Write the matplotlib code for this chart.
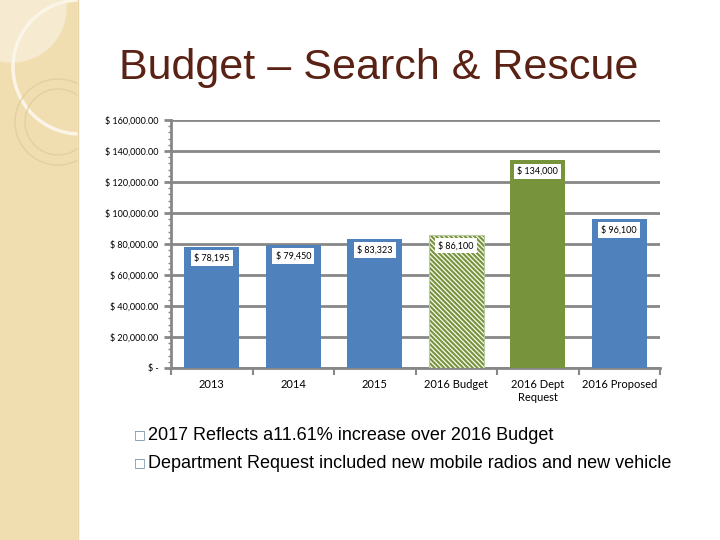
import numpy as np
import matplotlib.pyplot as plt
from matplotlib.patches import Circle, Rectangle

# ---------------- data ----------------
categories = ['2013', '2014', '2015', '2016 Budget', '2016 Dept\nRequest', '2016 Proposed']
values = [78195, 79450, 83323, 86100, 134000, 96100]
labels = ['$ 78,195', '$ 79,450', '$ 83,323', '$ 86,100', '$ 134,000', '$ 96,100']
yticks = [0, 20000, 40000, 60000, 80000, 100000, 120000, 140000, 160000]
ytick_labels = ['$ -', '$ 20,000.00', '$ 40,000.00', '$ 60,000.00', '$ 80,000.00',
                '$ 100,000.00', '$ 120,000.00', '$ 140,000.00', '$ 160,000.00']
bullets = ['2017 Reflects a11.61% increase over 2016 Budget',
           'Department Request included new mobile radios and new vehicle']

blue = '#4f81bd'
green = '#77933c'
grid_grey = '#878787'
plt.rcParams['hatch.linewidth'] = 1.5

fig = plt.figure(figsize=(7.2, 5.4), dpi=100)
fig.patch.set_facecolor('white')

# background: beige side panel with decorative circles
bg = fig.add_axes([0, 0, 1, 1], facecolor='none')
bg.set_xlim(0, 720)
bg.set_ylim(540, 0)
bg.axis('off')
bg.add_patch(Rectangle((0, 0), 78, 540, color='#f1deb0', zorder=0))
bg.add_patch(Circle((12, 8), 54, color='#f6ead0', zorder=1))
bg.add_patch(Circle((80, 67), 67, fill=False, ec='#fbf5e8', lw=2.5, zorder=2))
bg.add_patch(Circle((58, 122), 43, fill=False, ec='#e3cfa0', lw=1, zorder=2))
bg.add_patch(Circle((58, 122), 33, fill=False, ec='#e3cfa0', lw=1, zorder=2))
bg.add_patch(Rectangle((78, 0), 642, 540, color='white', zorder=3))
bg.plot([78, 78], [0, 540], color='#e8d6a8', lw=1, zorder=4)

# title
fig.text(379 / 720, 1 - 68 / 540, 'Budget – Search & Rescue', ha='center', va='center',
         fontsize=31, color='#5a2214', family='Liberation Sans')

# chart
ax = fig.add_axes([171 / 720, 1 - 368 / 540, 489 / 720, 248 / 540])
x = np.arange(len(categories))
colors = [blue, blue, blue, '#f8faf0', green, blue]
bars = ax.bar(x, values, width=0.675, color=colors, zorder=3)
hb = bars[3]
hb.set_hatch('\\' * 7)
hb.set_edgecolor(green)
hb.set_linewidth(0)
ax.bar(x[3], values[3], width=0.675, fill=False, edgecolor='#b9c9a0', lw=0.8, zorder=4)

for xi, v, lab in zip(x, values, labels):
    ax.annotate(lab, (xi, v), xytext=(0, -8), textcoords='offset points',
                ha='center', va='center', fontsize=6.5, family='Lato', zorder=5,
                bbox=dict(boxstyle='square,pad=0.35', fc='white', ec='none'))

ax.set_xlim(-0.5, len(categories) - 0.5)
ax.set_ylim(0, 160000)
ax.set_yticks(yticks)
ax.set_yticklabels(ytick_labels, fontsize=6.5, family='Lato')
ax.set_yticks(np.arange(0, 160001, 4000), minor=True)
ax.tick_params(axis='y', which='major', length=5, width=2, color=grid_grey, pad=4)
ax.tick_params(axis='y', which='minor', length=2, width=1, color=grid_grey)
ax.grid(axis='y', color=grid_grey, lw=2, zorder=0)
ax.set_axisbelow(True)

ax.set_xticks(x)
ax.set_xticklabels(categories, fontsize=8, family='Lato')
ax.set_xticks(np.arange(-0.5, len(categories)), minor=True)
ax.tick_params(axis='x', which='major', length=0, pad=8)
ax.tick_params(axis='x', which='minor', length=5, width=1.5, color=grid_grey)

for s in ['top', 'right']:
    ax.spines[s].set_visible(False)
ax.spines['left'].set_color(grid_grey)
ax.spines['left'].set_linewidth(2)
ax.spines['bottom'].set_color(grid_grey)
ax.spines['bottom'].set_linewidth(2)

# bullets
for i, b in enumerate(bullets):
    yy = 1 - (435 + 28 * i) / 540
    fig.text(134 / 720, yy, '□', ha='left', va='center', fontsize=9,
             color='#6f8aa0', family='DejaVu Sans')
    fig.text(148 / 720, yy, b, ha='left', va='center', fontsize=13,
             color='black', family='Liberation Sans')

fig.savefig('out.png', dpi=100)
